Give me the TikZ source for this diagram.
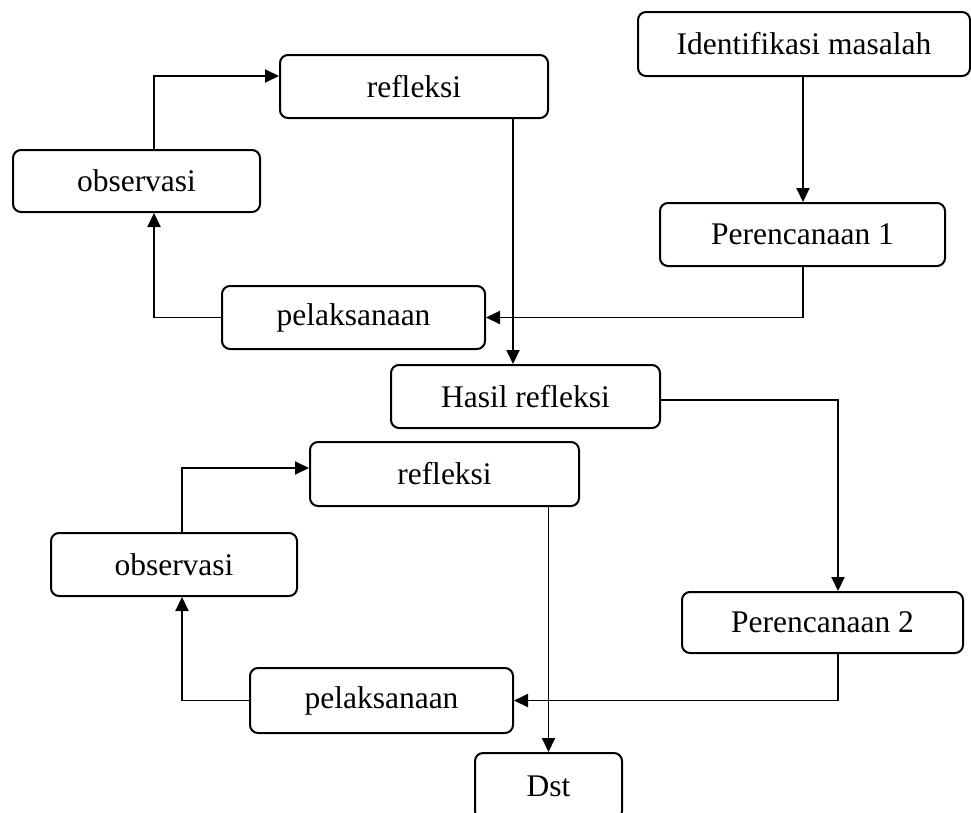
\documentclass[tikz,border=0pt]{standalone}
\usepackage{fontspec}
\setmainfont{Liberation Serif}
\usetikzlibrary{arrows.meta,calc}
\tikzset{
  box/.style={draw, line width=2pt, rounded corners=8pt, inner sep=0pt,
    font=\fontsize{31.5}{37}\selectfont},
  arr/.style={line width=1.9pt, -{Triangle[length=14pt,width=13pt]}},
}
\newcommand{\bx}[6]{\node[box, minimum width=#4pt, minimum height=#5pt] (#1) at (#2,#3) {#6};}
\begin{document}
\begin{tikzpicture}[x=1pt,y=-1pt]
\useasboundingbox (0,0) rectangle (971,812);
\bx{idm}{804}{44}{332}{64}{Identifikasi masalah}
\bx{p1}{802.5}{234.5}{285}{63}{Perencanaan 1}
\bx{ref1}{414}{86.5}{268}{63}{refleksi}
\bx{obs1}{136.5}{181}{247}{62}{observasi}
\bx{pel1}{353.5}{317.5}{263}{63}{pelaksanaan}
\bx{hasil}{525.5}{396.5}{269}{63}{Hasil refleksi}
\bx{ref2}{444.5}{474}{269}{64}{refleksi}
\bx{obs2}{174}{564.5}{246}{63}{observasi}
\bx{p2}{822.5}{622.5}{281}{61}{Perencanaan 2}
\bx{pel2}{381.5}{700.5}{263}{65}{pelaksanaan}
\bx{dst}{548.5}{786}{147}{66}{Dst}
\coordinate (k0) at (803,0);
\coordinate (k1) at (154,76);
\coordinate (k2) at (182,468);
\coordinate (k3) at (838,400);
\coordinate (k4) at (513,319);
\draw[arr] (idm.south -| k0) -- (p1.north -| k0);
\draw[arr] (p1.south -| k0) |- (pel1.east);
\draw[arr] (ref1.south -| k4) -- (hasil.north -| k4);
\draw[arr] (pel1.west) -| (obs1.south -| k1);
\draw[arr] (obs1.north -| k1) |- (ref1.west |- k1);
\draw[arr] (pel2.west) -| (obs2.south -| k2);
\draw[arr] (obs2.north -| k2) |- (ref2.west |- k2);
\draw[arr] (hasil.east |- k3) -| (p2.north -| k3);
\draw[arr] (p2.south -| k3) |- (pel2.east);
\draw[arr] (ref2.south -| dst.north) -- (dst.north);
\end{tikzpicture}
\end{document}
